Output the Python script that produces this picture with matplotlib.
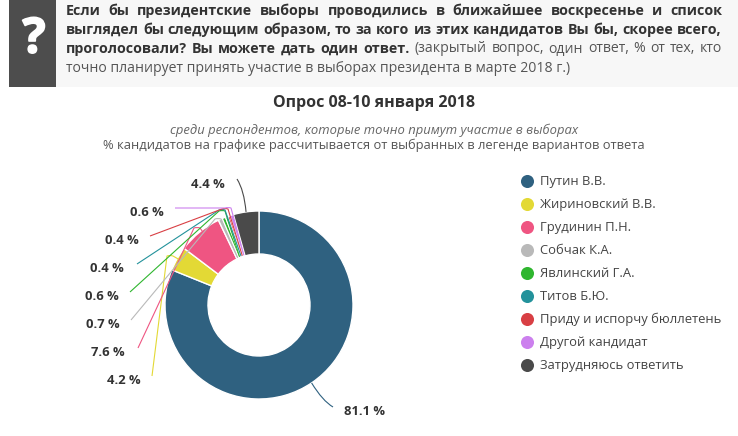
import matplotlib
matplotlib.use("Agg")
import matplotlib.pyplot as plt
import matplotlib.patheffects as pe
from matplotlib.patches import Rectangle, PathPatch
from matplotlib.path import Path
import numpy as np

W, H = 738, 436
categories = ["Путин В.В.", "Жириновский В.В.", "Грудинин П.Н.", "Собчак К.А.", "Явлинский Г.А.",
              "Титов Б.Ю.", "Приду и испорчу бюллетень", "Другой кандидат", "Затрудняюсь ответить"]
values = [81.1, 4.2, 7.6, 0.7, 0.6, 0.4, 0.4, 0.6, 4.4]
colors = ["#2f6180", "#e3d935", "#ef5582", "#b9b9b9", "#2fb62f", "#23929b", "#d83f44", "#cc80ee", "#4a4a4a"]
value_labels = ["81.1 %", "4.2 %", "7.6 %", "0.7 %", "0.6 %", "0.4 %", "0.4 %", "0.6 %", "4.4 %"]
question_bold = ["Если бы президентские выборы проводились в ближайшее воскресенье и список",
                 "выглядел бы следующим образом, то за кого из этих кандидатов Вы бы, скорее всего,",
                 "проголосовали? Вы можете дать один ответ."]
question_rest_3 = "(закрытый вопрос, один ответ, % от тех, кто"
question_line_4 = "точно планирует принять участие в выборах президента в марте 2018 г.)"
title = "Опрос 08-10 января 2018"
subtitle = "среди респондентов, которые точно примут участие в выборах"
note = "% кандидатов на графике рассчитывается от выбранных в легенде вариантов ответа"

plt.rcParams['font.family'] = ['Open Sans', 'DejaVu Sans']
TXT = "#333333"

fig = plt.figure(figsize=(W / 100, H / 100), dpi=100)
bg = fig.add_axes([0, 0, 1, 1])
bg.set_xlim(0, W); bg.set_ylim(H, 0); bg.axis("off")

# question box
bg.add_patch(Rectangle((9, 0), 47, 87, fc="#4d4d4d", ec="none"))
bg.add_patch(Rectangle((56, 0), 682, 87, fc="#f7f7f7", ec="none"))
q = bg.text(34, 40, "?", color="white", fontsize=35, fontweight="bold", ha="center", va="center")
q.set_path_effects([pe.withStroke(linewidth=1.2, foreground="white")])

LEFT, RIGHT = 66, 722
FS_BOLD, FS = 10.3, 10.05


def justified(words_style, y):
    """Lay out (text, weight, color, size) runs word by word so the line spans LEFT..RIGHT."""
    r = fig.canvas.get_renderer()
    items = []
    for run, weight, col, fs in words_style:
        for w in run.split(" "):
            t = bg.text(0, y, w, fontsize=fs, fontweight=weight, color=col, va="center", ha="left")
            items.append((t, t.get_window_extent(r).width))
    gap = (RIGHT - LEFT - sum(i[1] for i in items)) / (len(items) - 1)
    x = LEFT
    for t, wd in items:
        t.set_x(x)
        x += wd + gap


justified([(question_bold[0], "bold", TXT, FS_BOLD)], 11)
justified([(question_bold[1], "bold", TXT, FS_BOLD)], 30)
justified([(question_bold[2], "bold", TXT, FS_BOLD), (question_rest_3, "normal", "#555555", FS)], 49)
bg.text(LEFT, 68, question_line_4, fontsize=FS, color="#555555", va="center", ha="left")

# titles
bg.text(374, 103, title, fontsize=11.5, fontweight="bold", color=TXT, ha="center", va="center")
bg.text(374, 130, subtitle, fontsize=9.4, style="italic", color="#666666", ha="center", va="center")
bg.text(374, 145, note, fontsize=9.3, color="#555555", ha="center", va="center")

# donut
CX, CY, R, RI = 259, 305, 94, 51
ax = fig.add_axes([(CX - R) / W, 1 - (CY + R) / H, 2 * R / W, 2 * R / H])
ax.pie(values, colors=colors, startangle=90, counterclock=False, radius=1,
       wedgeprops=dict(width=1 - RI / R, edgecolor="white", linewidth=1))
ax.set_xlim(-1, 1); ax.set_ylim(-1, 1)

overlay = fig.add_axes([0, 0, 1, 1], facecolor="none", label="overlay", zorder=3)
overlay.set_xlim(0, W); overlay.set_ylim(H, 0); overlay.axis("off")

# leader lines: label end, waypoint, then to the slice at its mid-angle
label_xy = [(365, 411), (124, 380), (108, 352), (103, 324), (102, 296), (107, 268), (122, 240), (147, 212), (208, 184)]
line_end = [(333, 407), (152, 376), (138, 348), (131, 320), (130, 292), (137, 264), (150, 236), (175, 208), (237, 179)]
via = [None, (170, 255), (197, 227), (218, 218), (222, 210), (222, 209), (225, 208), (228, 207), None]
cum = np.cumsum(values) - np.array(values) / 2
for i, c in enumerate(cum):
    a = c / sum(values) * 2 * np.pi
    r = R if via[i] is None else RI + 1
    tip = (CX + r * np.sin(a), CY - r * np.cos(a))
    ex, ey = line_end[i]
    if via[i] is None:
        ctrl = (tip[0] - 2, tip[1] - 22) if i == 8 else (tip[0] + 11, tip[1] + 18)
        verts = [(ex, ey), ctrl, tip]
        codes = [Path.MOVETO, Path.CURVE3, Path.CURVE3]
    else:
        vx, vy = via[i]
        verts = [(ex, ey), (vx - 3, vy + 1), (vx, vy), (vx + 3, vy + 1), tip]
        codes = [Path.MOVETO, Path.LINETO, Path.CURVE3, Path.CURVE3, Path.LINETO]
    overlay.add_patch(PathPatch(Path(verts, codes), fc="none", ec=colors[i], lw=0.8))
    overlay.text(*label_xy[i], value_labels[i], fontsize=9.4, fontweight="bold", color=TXT, ha="center", va="center")

# legend
for i, name in enumerate(categories):
    y = 181 + i * 23
    bg.plot([527], [y], "o", ms=9.4, color=colors[i], mec="none")
    bg.text(540, y, name, fontsize=9.4, color="#444444", va="center", ha="left")

fig.savefig("out.png", dpi=100)
